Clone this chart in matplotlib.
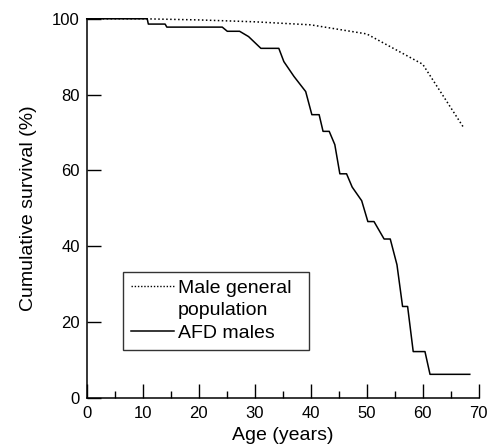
import numpy as np
import matplotlib
matplotlib.use("Agg")
import matplotlib.pyplot as plt
from matplotlib.lines import Line2D
from matplotlib.ticker import MultipleLocator

plt.rcParams['font.family'] = ['Liberation Sans', 'DejaVu Sans']
plt.rcParams['font.size'] = 12

# AFD males (Kaplan-Meier style curve)
afd_age = [0, 10.8, 11.0, 14.0, 14.3, 24.2, 25.1, 27.3, 28.9, 31.1, 34.3, 35.2, 37.0,
           39.1, 40.2, 41.5, 42.2, 43.3, 44.3, 45.2, 46.4, 47.4, 49.1, 50.2, 51.3,
           53.1, 54.2, 55.4, 56.4, 57.3, 58.3, 60.4, 61.3, 68.4]
afd_surv = [100, 100, 98.6, 98.6, 97.8, 97.8, 96.7, 96.7, 95.3, 92.2, 92.2, 88.7, 84.8,
            80.8, 74.7, 74.7, 70.3, 70.3, 66.8, 59.1, 59.1, 55.6, 52.0, 46.5, 46.5,
            41.9, 41.9, 35.1, 24.1, 24.1, 12.2, 12.2, 6.2, 6.2]

# Male general population
gen_age = [0, 10, 20, 30, 40, 50, 60, 67.3]
gen_surv = [100, 100, 99.7, 99.2, 98.4, 96.0, 88.0, 71.3]

fig = plt.figure(figsize=(4.9, 4.47), dpi=100)
ax = fig.add_axes([0.177, 0.110, 0.800, 0.848])

ax.plot(gen_age, gen_surv, color='black', lw=1.1, linestyle=(0, (1, 1.6)), clip_on=False)
ax.plot(afd_age, afd_surv, color='black', lw=1.1, clip_on=False)

ax.set_xlim(0, 70)
ax.set_ylim(0, 100)
ax.xaxis.set_major_locator(MultipleLocator(10))
ax.xaxis.set_minor_locator(MultipleLocator(5))
ax.yaxis.set_major_locator(MultipleLocator(20))

for s in ['top', 'right']:
    ax.spines[s].set_visible(False)
for s in ['left', 'bottom']:
    ax.spines[s].set_linewidth(1.1)

ax.tick_params(which='major', direction='in', length=10, width=1.0, pad=5, labelsize=12)
ax.tick_params(axis='x', which='major', pad=6)
ax.tick_params(which='minor', direction='in', length=4.7, width=1.0)

ax.set_xlabel('Age (years)', labelpad=4, fontsize=14)
ax.set_ylabel('Cumulative survival (%)', labelpad=11, fontsize=14)

handles = [Line2D([], [], color='black', lw=1.0, linestyle=(0, (1, 1.3))),
           Line2D([], [], color='none'),
           Line2D([], [], color='black', lw=1.1)]
labels = ['Male general', 'population', 'AFD males']
leg = ax.legend(handles, labels, loc='lower left', bbox_to_anchor=(0.093, 0.127, 0.475, 0.211),
                mode='expand', borderaxespad=0, frameon=True, fancybox=False,
                handlelength=2.2, handletextpad=0.2, labelspacing=0.25,
                borderpad=0.4, fontsize=14)
leg.get_frame().set_edgecolor('black')
leg.get_frame().set_linewidth(1.0)

fig.savefig('out.png', dpi=100)
